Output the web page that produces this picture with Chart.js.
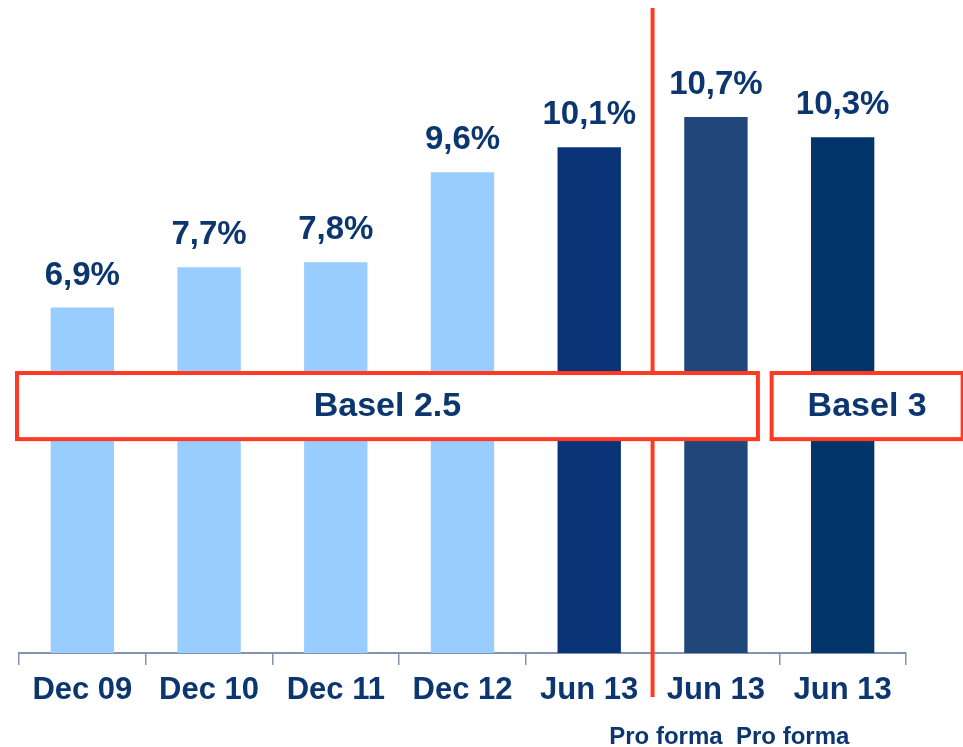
<!DOCTYPE html>
<html lang="en">
<head>
  <meta charset="UTF-8">
  <title>Capital ratio - Basel 2.5 / Basel 3</title>
  <script src="https://cdn.jsdelivr.net/npm/chart.js"></script>
  <style>
    html, body { margin: 0; padding: 0; background: #ffffff; }
    #wrap { width: 963px; height: 747px; position: relative; }
  </style>
</head>
<body>
  <div id="wrap"><canvas id="chart"></canvas></div>

  <script>
    // chart data
    const categories = ["Dec 09", "Dec 10", "Dec 11", "Dec 12", "Jun 13", "Jun 13", "Jun 13"];
    const subLabels = ["", "", "", "", "", "Pro forma", "Pro forma"];
    const ratios = [6.9, 7.7, 7.8, 9.6, 10.1, 10.7, 10.3];
    const barColors = ["#99ccff", "#99ccff", "#99ccff", "#99ccff", "#0a3378", "#21477a", "#03356b"];
    const regimes = ["Basel 2.5", "Basel 3"];

    const navy = "#0c3670";
    const red = "#ff3a24";
    const fontFam = "'Liberation Sans', Arial, sans-serif";

    // value labels above bars + the extra annotations
    const overlay = {
      id: "overlay",
      afterDatasetsDraw(chart) {
        const ctx = chart.ctx;
        const area = chart.chartArea;
        const xs = chart.scales.x;
        const ys = chart.scales.y;
        const bars = chart.getDatasetMeta(0).data;

        ctx.save();
        ctx.fillStyle = navy;
        ctx.textAlign = "center";
        ctx.textBaseline = "middle";
        ctx.font = "bold 33px " + fontFam;
        bars.forEach((b, i) => {
          ctx.fillText(ratios[i].toFixed(1).replace(".", ",") + "%", b.x, b.y - 32);
        });

        // "Pro forma" sub labels
        ctx.font = "bold 24px " + fontFam;
        subLabels.forEach((t, i) => {
          if (!t) return;
          ctx.fillText(t, xs.getPixelForValue(i) - 50, area.bottom + 84);
        });

        // vertical separator between Jun 13 and pro forma
        const sepX = (xs.getPixelForValue(4) + xs.getPixelForValue(5)) / 2;
        ctx.strokeStyle = red;
        ctx.lineWidth = 4;
        ctx.beginPath();
        ctx.moveTo(sepX, 8);
        ctx.lineTo(sepX, area.bottom + 44);
        ctx.stroke();

        // regime boxes
        const top = ys.getPixelForValue(5.59);
        const bot = ys.getPixelForValue(4.27);
        const boxes = [
          [area.left - 2, xs.getPixelForValue(5) + 42],
          [xs.getPixelForValue(6) - 71, xs.getPixelForValue(6) + 120]
        ];
        ctx.font = "bold 34px " + fontFam;
        boxes.forEach(([l, r], i) => {
          ctx.fillStyle = "#ffffff";
          ctx.fillRect(l, top, r - l, bot - top);
          ctx.strokeStyle = red;
          ctx.lineWidth = 4;
          ctx.strokeRect(l, top, r - l, bot - top);
          ctx.fillStyle = navy;
          ctx.fillText(regimes[i], (l + r) / 2, (top + bot) / 2 + 1);
        });
        ctx.restore();
      }
    };

    new Chart(document.getElementById("chart"), {
      type: "bar",
      data: {
        labels: categories,
        datasets: [{
          data: ratios,
          backgroundColor: barColors,
          borderWidth: 0,
          categoryPercentage: 1,
          barPercentage: 0.5
        }]
      },
      options: {
        responsive: true,
        maintainAspectRatio: false,
        animation: false,
        events: [],
        layout: { padding: { left: 19, right: 57, top: 52, bottom: 0 } },
        plugins: { legend: { display: false }, tooltip: { enabled: false } },
        scales: {
          x: {
            grid: {
              drawOnChartArea: false,
              drawTicks: true,
              tickLength: 12,
              color: "#8093b0",
              lineWidth: 1.5
            },
            border: { display: true, color: "#8093b0", width: 2 },
            ticks: {
              color: navy,
              padding: 7,
              font: { family: fontFam, size: 31, weight: "bold" },
              maxRotation: 0
            },
            afterFit(s) { s.height = 94; }
          },
          y: {
            display: false,
            min: 0,
            max: 12
          }
        }
      },
      plugins: [overlay]
    });
  </script>
</body>
</html>
